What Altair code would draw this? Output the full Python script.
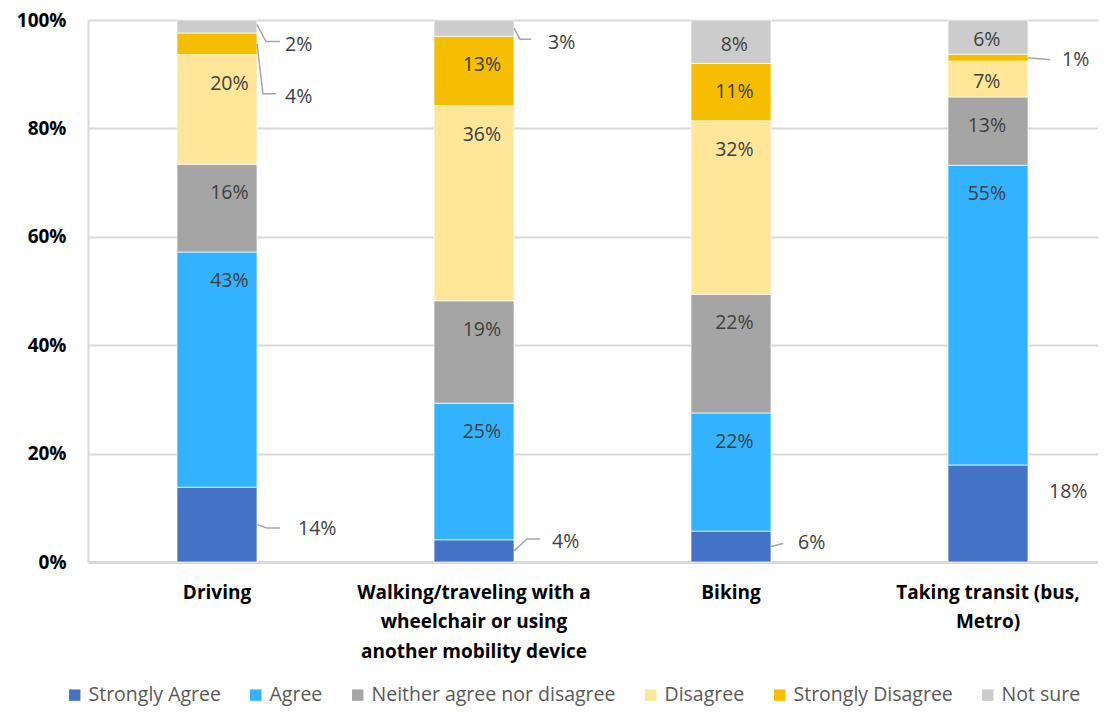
import json
import altair as alt
import pandas as pd

# ---------------- data ----------------
categories = [
    "Driving",
    "Walking/traveling with a wheelchair or using another mobility device",
    "Biking",
    "Taking transit (bus, Metro)",
]
category_lines = [
    ["Driving"],
    ["Walking/traveling with a", "wheelchair or using", "another mobility device"],
    ["Biking"],
    ["Taking transit (bus,", "Metro)"],
]
series = [
    "Strongly Agree",
    "Agree",
    "Neither agree nor disagree",
    "Disagree",
    "Strongly Disagree",
    "Not sure",
]
strongly_agree = [13.8, 4.1, 5.7, 17.9]
agree = [43.4, 25.2, 21.8, 55.3]
neither = [16.2, 18.9, 21.9, 12.6]
disagree = [20.2, 36.0, 32.0, 6.6]
strongly_disagree = [4.0, 12.8, 10.6, 1.3]
not_sure = [2.4, 3.0, 8.0, 6.3]
values = [strongly_agree, agree, neither, disagree, strongly_disagree, not_sure]

colors = ["#4472C4", "#33B2FF", "#A5A5A5", "#FFE699", "#F5BE00", "#CCCCCC"]

# labels drawn outside the bar (category index, series index):
# text offset (px right of bar edge, px below segment middle) and leader points
outside = {
    (0, 0): {"text": (41, 4), "leader": [(0, 0), (10, 3.5), (23, 3.5)]},
    (0, 5): {"text": (28, 18.5), "leader": [(0, -2), (9, 15), (23, 15)]},
    (0, 4): {"text": (28, 53), "leader": [(0, 0), (6, 50), (19, 50)]},
    (1, 0): {"text": (38, -9), "leader": [(0, 0), (13, -12), (26, -12)]},
    (1, 5): {"text": (34, 15), "leader": [(0, 0), (6, 11), (17, 11)]},
    (2, 0): {"text": (27, -3.6), "leader": [(0, 0), (12, -3)]},
    (3, 4): {"text": (34, 2), "leader": [(0, 0), (22, 2)]},
    (3, 0): {"text": (21, -21), "leader": []},
}
INSIDE_FROM_TOP, INSIDE_BELOW_MID = 29, 3  # px

# ---------------- layout ----------------
W, H = 1010, 542
STEP, BAR, FIRST_START = 257.0, 80.0, 89.0
n = len(categories)
PAD_INNER = 1 - BAR / STEP
PAD_OUTER = (W / STEP - n + PAD_INNER) / 2
ALIGN = FIRST_START / (W - STEP * (n - PAD_INNER))
step = W / (n - PAD_INNER + 2 * PAD_OUTER)
start_off = (W - step * (n - PAD_INNER)) * ALIGN
bw = step * (1 - PAD_INNER)
center0 = start_off + bw / 2
d0 = -center0 / step
d1 = d0 + W / step
half_bw_units = (bw / 2) / step
px_per_pct = H / 100.0

FONT = "Open Sans"

rows, ann_text, ann_line = [], [], []
for i, cat in enumerate(categories):
    cum = 0.0
    for j, s in enumerate(series):
        v = values[j][i]
        st, en = cum, cum + v
        cum = en
        mid = (st + en) / 2
        lab = f"{round(v):d}%"
        ly = max(en - INSIDE_FROM_TOP / px_per_pct, mid - INSIDE_BELOW_MID / px_per_pct)
        rows.append({"cat": cat, "series": s, "order": j, "start": st, "end": en,
                     "label": lab, "label_y": ly, "inside": (i, j) not in outside})
        if (i, j) in outside:
            o = outside[(i, j)]
            edge = i + half_bw_units
            tdx, tdy = o["text"]
            ann_text.append({"tx": edge + tdx / step, "ty": mid - tdy / px_per_pct, "label": lab})
            for k, (lx, lyy) in enumerate(o["leader"]):
                ann_line.append({"key": f"{i}-{j}", "k": k, "lx": edge + lx / step,
                                 "ly": mid - lyy / px_per_pct})

df = pd.DataFrame(rows)
df_in = df[df["inside"]]
df_txt = pd.DataFrame(ann_text)
df_line = pd.DataFrame(ann_line)

wrap = {c: l for c, l in zip(categories, category_lines)}
label_expr = json.dumps(wrap) + "[datum.label]"

x_scale = alt.Scale(paddingInner=PAD_INNER, paddingOuter=PAD_OUTER, align=ALIGN)
y_scale = alt.Scale(domain=[0, 100], nice=False)
q_scale = alt.Scale(domain=[d0, d1], nice=False, zero=False)

y_axis = alt.Axis(values=[0, 20, 40, 60, 80, 100], labelExpr="datum.value + '%'",
                  ticks=False, domain=True, domainColor="#D9D9D9", domainWidth=2,
                  grid=True, gridColor="#D9D9D9", gridWidth=2,
                  labelFont=FONT, labelFontWeight="bold", labelFontSize=19,
                  labelColor="black", labelPadding=22, title=None)

x_axis = alt.Axis(labelExpr=label_expr, labelAngle=0, ticks=False, domain=True,
                  domainColor="#D9D9D9", domainWidth=3, grid=False,
                  labelFont=FONT, labelFontWeight="bold", labelFontSize=19,
                  labelColor="black", labelPadding=21, labelLineHeight=29.5,
                  labelBaseline="top", labelLimit=0, title=None)

bars = alt.Chart(df).mark_bar(stroke="white", strokeWidth=0.7).encode(
    x=alt.X("cat:N", sort=categories, scale=x_scale, axis=x_axis),
    y=alt.Y("start:Q", scale=y_scale, axis=y_axis),
    y2="end:Q",
    color=alt.Color("series:N", scale=alt.Scale(domain=series, range=colors),
                    legend=alt.Legend(orient="none", legendX=-23, legendY=665,
                                      direction="horizontal", columns=6,
                                      symbolType="square", symbolSize=130,
                                      symbolStrokeWidth=0, labelFont=FONT,
                                      labelFontSize=19.5, labelColor="#595959",
                                      labelOffset=4, columnPadding=25,
                                      title=None, padding=0, labelLimit=400)),
    order=alt.Order("order:Q"),
)

inside = alt.Chart(df_in).mark_text(baseline="middle", align="center",
                                    font=FONT, fontSize=19.5, color="#404040").encode(
    x=alt.X("cat:N", sort=categories, scale=x_scale, axis=None),
    y=alt.Y("label_y:Q", scale=y_scale, axis=y_axis),
    text="label:N",
)

out_text = alt.Chart(df_txt).mark_text(align="left", baseline="middle", font=FONT,
                                       fontSize=19.5, color="#404040").encode(
    x=alt.X("tx:Q", scale=q_scale, axis=None),
    y=alt.Y("ty:Q", scale=y_scale, axis=y_axis),
    text="label:N",
)

leaders = alt.Chart(df_line).mark_line(color="#A6A6A6", strokeWidth=1.5).encode(
    x=alt.X("lx:Q", scale=q_scale, axis=None),
    y=alt.Y("ly:Q", scale=y_scale, axis=y_axis),
    detail="key:N",
    order="k:Q",
)

chart = alt.layer(bars, inside, leaders, out_text).resolve_scale(
    x="independent"
).properties(
    width=W, height=H,
    padding={"left": 80, "top": 12, "right": 0, "bottom": 145},
    autosize=alt.AutoSizeParams(type="none"),
).configure_view(stroke=None)

chart.save("out.html", embed_options={"renderer": "svg", "actions": False})
